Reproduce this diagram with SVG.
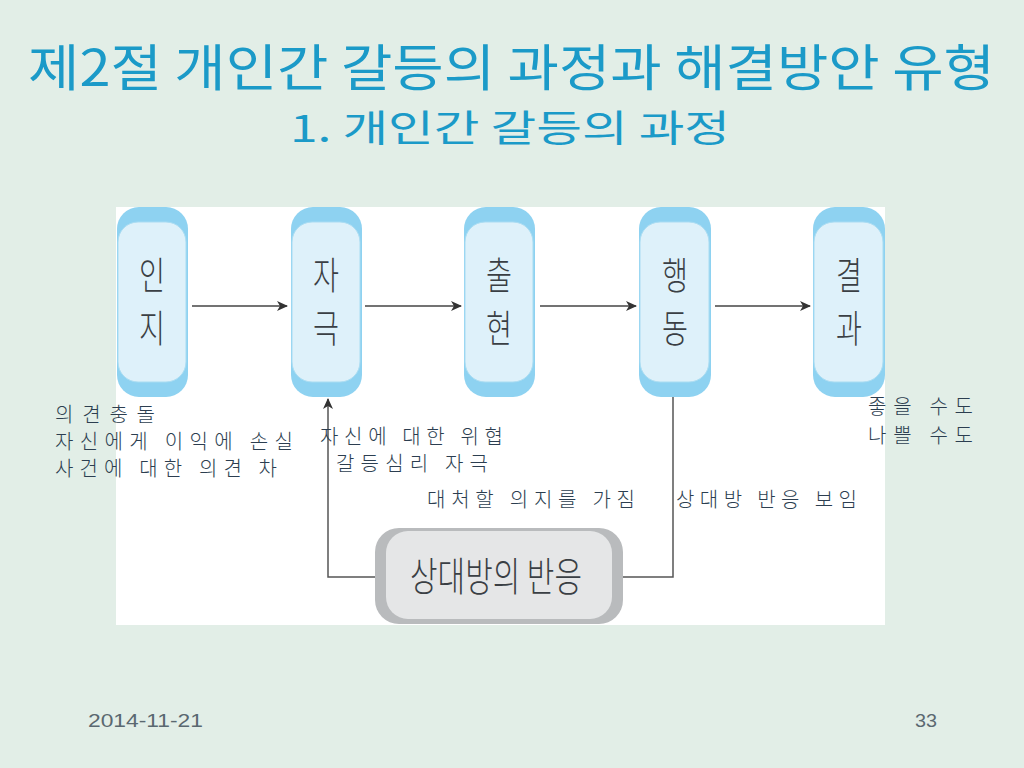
<svg xmlns="http://www.w3.org/2000/svg" width="1024" height="768" viewBox="0 0 1024 768">
<defs>
<style>
.t{font-family:"Noto Sans CJK KR","Noto Sans",sans-serif;}
.title{fill:#1b9ac8;}
.body{fill:#2c3e50;font-size:20px;font-weight:300;}
.nodeTxt{fill:#3a3f44;font-size:38px;font-weight:300;}
.outer{fill:#8ed2f1;}
.inner{fill:#def1fa;stroke:#a9dcf2;stroke-width:1;}
.conn{stroke:#444;stroke-width:1.5;fill:none;}
.fb{stroke:#555;stroke-width:1.5;fill:none;}
.foot{fill:#5a6870;font-family:"Liberation Sans",sans-serif;font-size:18px;}
</style>
<marker id="ah" markerWidth="12" markerHeight="12" refX="10" refY="5" orient="auto" markerUnits="userSpaceOnUse">
<path d="M0,0 L11,5 L0,10 L3,5 Z" fill="#333"/>
</marker>
</defs>
<rect x="0" y="0" width="1024" height="768" fill="#e2eee7"/>
<text class="t title" x="28" y="86" font-size="50" textLength="967" lengthAdjust="spacingAndGlyphs">제2절 개인간 갈등의 과정과 해결방안 유형</text>
<text class="t title" x="290" y="142" font-size="37" textLength="440" lengthAdjust="spacingAndGlyphs">1. 개인간 갈등의 과정</text>
<rect x="116" y="207" width="769" height="418" fill="#ffffff"/>

<g id="connectors">
<line class="conn" x1="192" y1="306" x2="287" y2="306" marker-end="url(#ah)"/>
<line class="conn" x1="365" y1="306" x2="461" y2="306" marker-end="url(#ah)"/>
<line class="conn" x1="540" y1="306" x2="636" y2="306" marker-end="url(#ah)"/>
<line class="conn" x1="715" y1="306" x2="810" y2="306" marker-end="url(#ah)"/>
<polyline class="fb" points="673,397 673,577 623,577"/>
<polyline class="fb" points="375,577 328,577 328,399" marker-end="url(#ah)"/>
</g>

<g id="node-recognition">
<rect class="outer" x="117" y="207" width="71" height="190" rx="22"/>
<rect class="inner" x="118" y="222" width="68" height="160" rx="20"/>
<text class="t nodeTxt" x="139" y="289" textLength="26" lengthAdjust="spacingAndGlyphs">인</text>
<text class="t nodeTxt" x="139" y="342" textLength="26" lengthAdjust="spacingAndGlyphs">지</text>
</g>
<g id="node-stimulus">
<rect class="outer" x="291" y="207" width="71" height="190" rx="22"/>
<rect class="inner" x="292" y="222" width="68" height="160" rx="20"/>
<text class="t nodeTxt" x="313" y="289" textLength="26" lengthAdjust="spacingAndGlyphs">자</text>
<text class="t nodeTxt" x="313" y="342" textLength="26" lengthAdjust="spacingAndGlyphs">극</text>
</g>
<g id="node-emergence">
<rect class="outer" x="464" y="207" width="71" height="190" rx="22"/>
<rect class="inner" x="465" y="222" width="68" height="160" rx="20"/>
<text class="t nodeTxt" x="486" y="289" textLength="26" lengthAdjust="spacingAndGlyphs">출</text>
<text class="t nodeTxt" x="486" y="342" textLength="26" lengthAdjust="spacingAndGlyphs">현</text>
</g>
<g id="node-action">
<rect class="outer" x="639" y="207" width="72" height="190" rx="22"/>
<rect class="inner" x="640" y="222" width="69" height="160" rx="20"/>
<text class="t nodeTxt" x="662" y="289" textLength="26" lengthAdjust="spacingAndGlyphs">행</text>
<text class="t nodeTxt" x="662" y="342" textLength="26" lengthAdjust="spacingAndGlyphs">동</text>
</g>
<g id="node-result">
<rect class="outer" x="813" y="207" width="72" height="190" rx="22"/>
<rect class="inner" x="814" y="222" width="69" height="160" rx="20"/>
<text class="t nodeTxt" x="836" y="289" textLength="26" lengthAdjust="spacingAndGlyphs">결</text>
<text class="t nodeTxt" x="836" y="342" textLength="26" lengthAdjust="spacingAndGlyphs">과</text>
</g>
<g id="node-reaction">
<rect x="375" y="528" width="248" height="96" rx="24" fill="#b9bbbd"/>
<rect x="386" y="531" width="226" height="88" rx="22" fill="#e5e6e7"/>
<text class="t" x="410" y="591" font-size="40" font-weight="300" fill="#3a3f44" textLength="172" lengthAdjust="spacingAndGlyphs">상대방의 반응</text>
</g>

<g id="labels">
<text class="t body" x="55" y="422" textLength="100" lengthAdjust="spacing">의견충돌</text>
<text class="t body" x="55" y="449" textLength="238" lengthAdjust="spacing">자신에게 이익에 손실</text>
<text class="t body" x="55" y="476" textLength="222" lengthAdjust="spacing">사건에 대한 의견 차</text>
<text class="t body" x="320" y="444" textLength="183" lengthAdjust="spacing">자신에 대한 위협</text>
<text class="t body" x="336" y="471" textLength="152" lengthAdjust="spacing">갈등심리 자극</text>
<text class="t body" x="427" y="507" textLength="208" lengthAdjust="spacing">대처할 의지를 가짐</text>
<text class="t body" x="676" y="507" textLength="181" lengthAdjust="spacing">상대방 반응 보임</text>
<text class="t body" x="868" y="414" textLength="105" lengthAdjust="spacing">좋을 수도</text>
<text class="t body" x="868" y="443" textLength="105" lengthAdjust="spacing">나쁠 수도</text>
</g>

<text class="foot" x="88" y="727" textLength="115" lengthAdjust="spacingAndGlyphs">2014-11-21</text>
<text class="foot" x="915" y="727" textLength="22" lengthAdjust="spacingAndGlyphs">33</text>
</svg>
